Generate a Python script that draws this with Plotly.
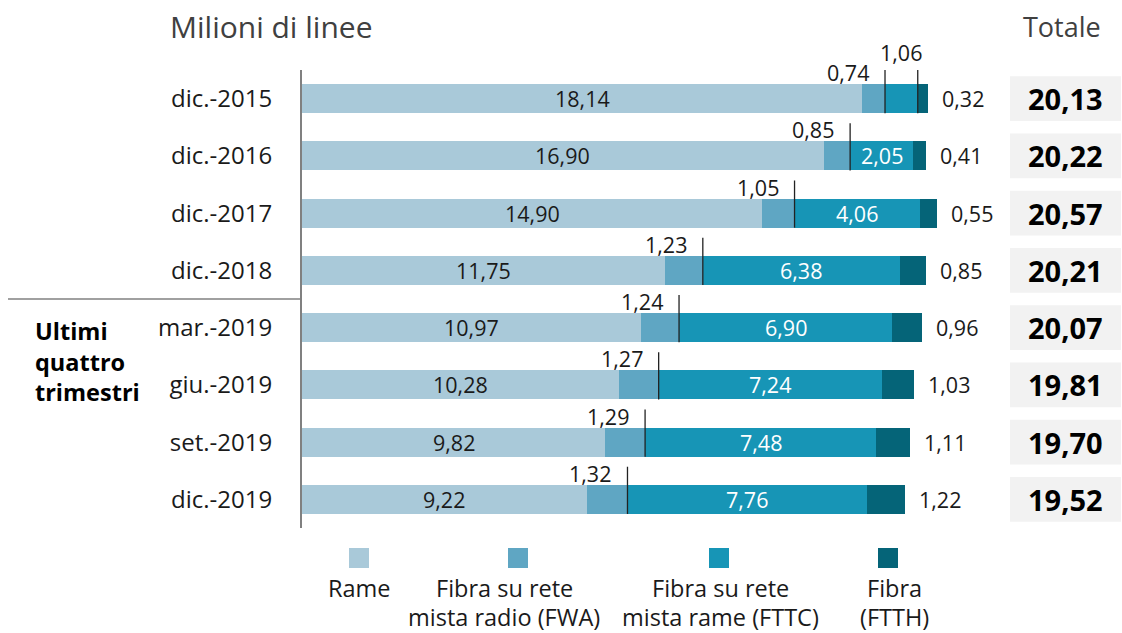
import plotly.graph_objects as go

# ---------------- data ----------------
categories = ["dic.-2015", "dic.-2016", "dic.-2017", "dic.-2018",
              "mar.-2019", "giu.-2019", "set.-2019", "dic.-2019"]
rame = [18.14, 16.90, 14.90, 11.75, 10.97, 10.28, 9.82, 9.22]
fwa = [0.74, 0.85, 1.05, 1.23, 1.24, 1.27, 1.29, 1.32]
fttc = [1.06, 2.05, 4.06, 6.38, 6.90, 7.24, 7.48, 7.76]
ftth = [0.32, 0.41, 0.55, 0.85, 0.96, 1.03, 1.11, 1.22]
totale = [20.13, 20.22, 20.57, 20.21, 20.07, 19.81, 19.70, 19.52]

series_names = ["Rame", "Fibra su rete<br>mista radio (FWA)",
                "Fibra su rete<br>mista rame (FTTC)", "Fibra<br>(FTTH)"]
colors = ["#a9c9d9", "#5fa6c3", "#1795b6", "#056478"]

# ---------------- layout geometry ----------------
W, H = 1122, 633
ML, MR, MT, MB = 302, 0, 70, 105
PW, PH = W - ML - MR, H - MT - MB
PX_PER_UNIT = 30.88
XMAX = PW / PX_PER_UNIT
FONT = "Open Sans, Noto Sans, sans-serif"
TXT = "#1a1a1a"


def px(xp):
    return (xp - ML) / PW


def py(yp):
    return 1 - (yp - MT) / PH


def fmt(v):
    return f"{v:.2f}".replace(".", ",")


n = len(categories)
ys = list(range(n))

fig = go.Figure()
for vals, name, col in zip([rame, fwa, fttc, ftth], series_names, colors):
    fig.add_trace(go.Bar(
        y=ys, x=vals, orientation="h", name=name,
        marker=dict(color=col, line=dict(width=0)),
        width=0.51, hoverinfo="skip", showlegend=False))

shapes = []
annotations = []

for i in range(n):
    c1 = rame[i]
    c2 = c1 + fwa[i]
    c3 = c2 + fttc[i]
    c4 = c3 + ftth[i]
    # Rame label
    annotations.append(dict(x=c1 / 2, y=i, xref="x", yref="y", text=fmt(rame[i]),
                            showarrow=False, xanchor="center",
                            font=dict(size=21.5, color=TXT)))
    # FWA label + leader line
    shapes.append(dict(type="line", xref="x", yref="y", x0=c2, x1=c2,
                       y0=i + 0.255, y1=i - 0.57,
                       line=dict(color="#222222", width=1.3), layer="above"))
    annotations.append(dict(x=c2, y=i, xref="x", yref="y", text=fmt(fwa[i]),
                            showarrow=False, xanchor="right", xshift=-14,
                            yshift=26, font=dict(size=21.5, color=TXT)))
    # FTTC label
    if fttc[i] >= 1.5:
        annotations.append(dict(x=(c2 + c3) / 2, y=i, xref="x", yref="y",
                                text=fmt(fttc[i]), showarrow=False,
                                xanchor="center",
                                font=dict(size=21.5, color="white")))
    else:
        shapes.append(dict(type="line", xref="x", yref="y", x0=c3, x1=c3,
                           y0=i + 0.255, y1=i - 0.57,
                           line=dict(color="#222222", width=1.3), layer="above"))
        annotations.append(dict(x=(c2 + c3) / 2, y=i, xref="x", yref="y",
                                text=fmt(fttc[i]), showarrow=False,
                                xanchor="center", yshift=46,
                                font=dict(size=21.5, color=TXT)))
    # FTTH label
    annotations.append(dict(x=c4, y=i, xref="x", yref="y", text=fmt(ftth[i]),
                            showarrow=False, xanchor="left", xshift=12,
                            font=dict(size=21.5, color=TXT)))
    # Totale box + label
    shapes.append(dict(type="rect", xref="paper", yref="y",
                       x0=px(1010), x1=px(1121), y0=i - 0.393, y1=i + 0.393,
                       fillcolor="#f2f2f2", line=dict(width=0), layer="below"))
    annotations.append(dict(x=px(1065), y=i, xref="paper", yref="y",
                            text=f"<b>{fmt(totale[i])}</b>", showarrow=False,
                            xanchor="center", yanchor="middle",
                            font=dict(size=29, color="#000000")))

# separator line for last quarters
shapes.append(dict(type="line", xref="paper", yref="y", x0=px(8), x1=0,
                   y0=3.5, y1=3.5, line=dict(color="#808080", width=1.5)))
annotations.append(dict(x=px(33), y=py(361), xref="paper", yref="paper",
                        text="<b>Ultimi<br>quattro<br>trimestri</b>",
                        showarrow=False, xanchor="left", yanchor="middle",
                        align="left", font=dict(size=23.5, color="#000000")))

# titles
annotations.append(dict(x=px(168), y=py(26), xref="paper", yref="paper",
                        text="Milioni di linee", showarrow=False,
                        xanchor="left", yanchor="middle",
                        font=dict(size=30, color="#404040")))
annotations.append(dict(x=px(1062), y=py(26), xref="paper", yref="paper",
                        text="Totale", showarrow=False,
                        xanchor="center", yanchor="middle",
                        font=dict(size=27, color="#404040")))

# custom legend
leg_square_x = [359, 518, 719, 888]
leg_text_x = [359, 504, 720, 894]
leg_line_y = [588, 617]
for sx, tx, name, col in zip(leg_square_x, leg_text_x, series_names, colors):
    shapes.append(dict(type="rect", xref="paper", yref="paper",
                       x0=px(sx - 10), x1=px(sx + 10), y0=py(568), y1=py(548),
                       fillcolor=col, line=dict(width=0)))
    for line_txt, ly in zip(name.split("<br>"), leg_line_y):
        annotations.append(dict(x=px(tx), y=py(ly), xref="paper", yref="paper",
                                text=line_txt, showarrow=False, xanchor="center",
                                yanchor="middle", align="center",
                                font=dict(size=23.5, color=TXT)))

fig.update_layout(
    width=W, height=H,
    margin=dict(l=ML, r=MR, t=MT, b=MB, pad=0),
    barmode="stack", bargap=0,
    plot_bgcolor="white", paper_bgcolor="white",
    font=dict(family=FONT, color=TXT),
    shapes=shapes, annotations=annotations,
    xaxis=dict(range=[0, XMAX], visible=False, fixedrange=True),
    yaxis=dict(range=[n - 0.5, -0.5], tickvals=ys, ticktext=categories,
               showline=True, linecolor="#808080", linewidth=2,
               showgrid=False, zeroline=False, ticks="outside", ticklen=23,
               tickcolor="rgba(0,0,0,0)",
               tickfont=dict(size=24, color=TXT, family=FONT), fixedrange=True),
    showlegend=False,
)

fig.write_html(
    "out.html",
    config={"displayModeBar": False},
    post_script="document.body.style.margin='0';document.body.style.overflow='hidden';",
)
